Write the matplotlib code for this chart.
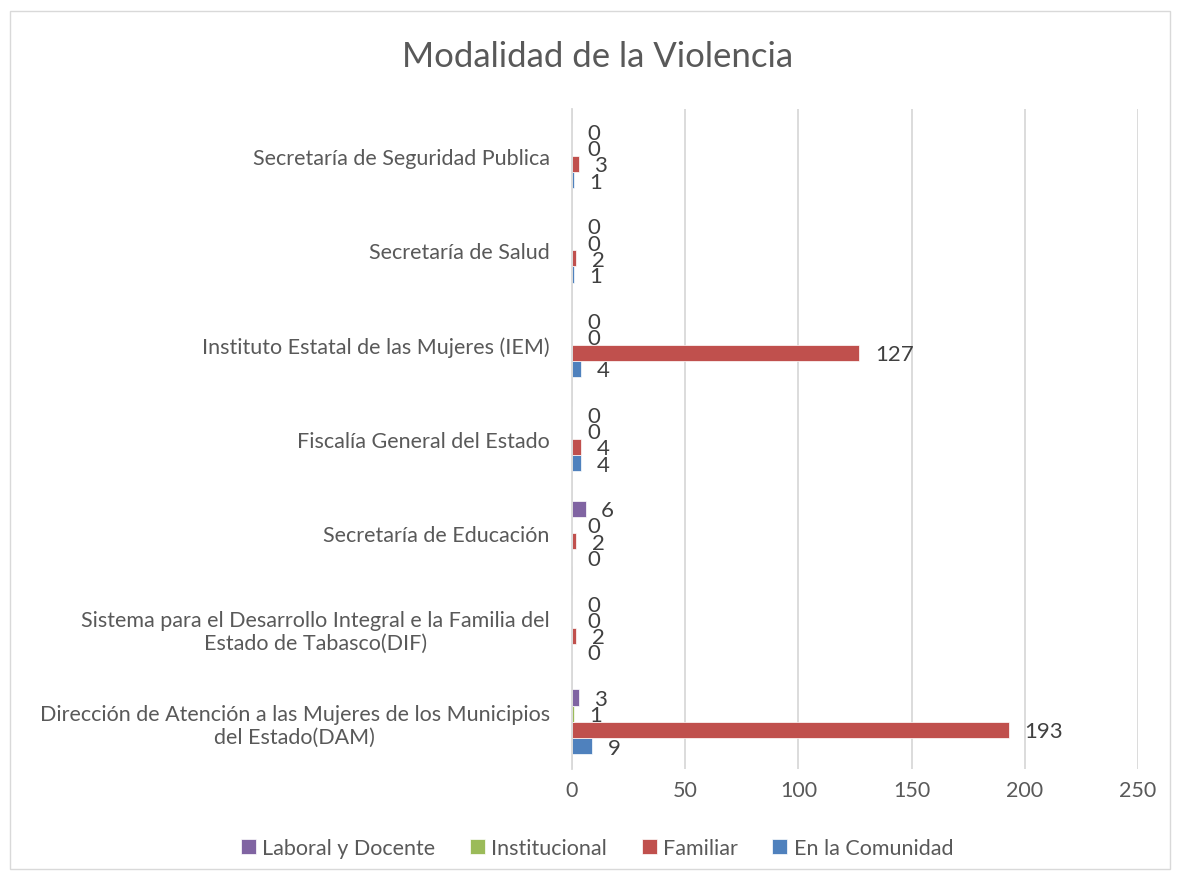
import matplotlib.pyplot as plt
from matplotlib.patches import Rectangle
import numpy as np

plt.rcParams['font.family'] = ['Lato', 'DejaVu Sans']

# Datos
categorias = [
    "Dirección de Atención a las Mujeres de los Municipios\ndel Estado(DAM)",
    "Sistema para el Desarrollo Integral e la Familia del\nEstado de Tabasco(DIF)",
    "Secretaría de Educación",
    "Fiscalía General del Estado",
    "Instituto Estatal de las Mujeres (IEM)",
    "Secretaría de Salud",
    "Secretaría de Seguridad Publica",
]
en_la_comunidad = [9, 0, 0, 4, 4, 1, 1]
familiar = [193, 2, 2, 4, 127, 2, 3]
institucional = [1, 0, 0, 0, 0, 0, 0]
laboral_docente = [3, 0, 6, 0, 0, 0, 0]
x_ticks = [0, 50, 100, 150, 200, 250]

series = [
    ("En la Comunidad", en_la_comunidad, "#4F81BD"),
    ("Familiar", familiar, "#C0504D"),
    ("Institucional", institucional, "#9BBB59"),
    ("Laboral y Docente", laboral_docente, "#8064A2"),
]

gris = "#595959"
fs = 15.5

fig = plt.figure(figsize=(11.8, 8.78), dpi=100)
ax = fig.add_axes([0.4847, 0.123, 0.4797, 0.752])

y = np.arange(len(categorias))
alto = 1 / (4 + 1.82)
barras = {}
for i, (nombre, vals, color) in enumerate(series):
    pos = y + (i - 1.5) * alto
    b = ax.barh(pos, vals, height=alto, color=color, label=nombre,
                edgecolor="white", linewidth=0.5)
    barras[nombre] = b
    # etiquetas de datos (los ceros se solapan igual que en el original)
    for p, v in zip(pos, vals):
        ax.annotate(str(v), (v, p), xytext=(11, -1), textcoords="offset points",
                    ha="left", va="center", fontsize=fs + 0.5, color="#404040")

ax.set_xlim(0, 250)
ax.set_ylim(-0.5, len(categorias) - 0.5)
ax.set_xticks(x_ticks)
ax.set_yticks(y)
ax.set_yticklabels(categorias, multialignment="center")
ax.tick_params(axis="y", length=0, pad=16, labelsize=fs, labelcolor=gris)
ax.tick_params(axis="x", length=0, pad=8, labelsize=fs, labelcolor=gris)
ax.grid(axis="x", color="#D9D9D9", linewidth=1.3)
ax.set_axisbelow(True)
for s in ["top", "right", "bottom"]:
    ax.spines[s].set_visible(False)
ax.spines["left"].set_color("#D9D9D9")
ax.spines["left"].set_linewidth(1.3)

fig.text(0.506, 1 - 57 / 878, "Modalidad de la Violencia", ha="center",
         va="center", fontsize=25, color=gris)

handles = [barras[n] for n in ["Laboral y Docente", "Institucional", "Familiar", "En la Comunidad"]]
fig.legend(handles, [h.get_label() for h in handles], loc="center",
           bbox_to_anchor=(0.506, 1 - 849 / 878), ncol=4, frameon=False,
           fontsize=fs, labelcolor=gris, handlelength=0.7, handleheight=0.7,
           handletextpad=0.3, columnspacing=1.6)

fig.add_artist(Rectangle((10 / 1180, 8 / 878), 1160 / 1180, 858 / 878,
                         transform=fig.transFigure, fill=False,
                         edgecolor="#D9D9D9", linewidth=1))

fig.savefig("out.png", dpi=100)
